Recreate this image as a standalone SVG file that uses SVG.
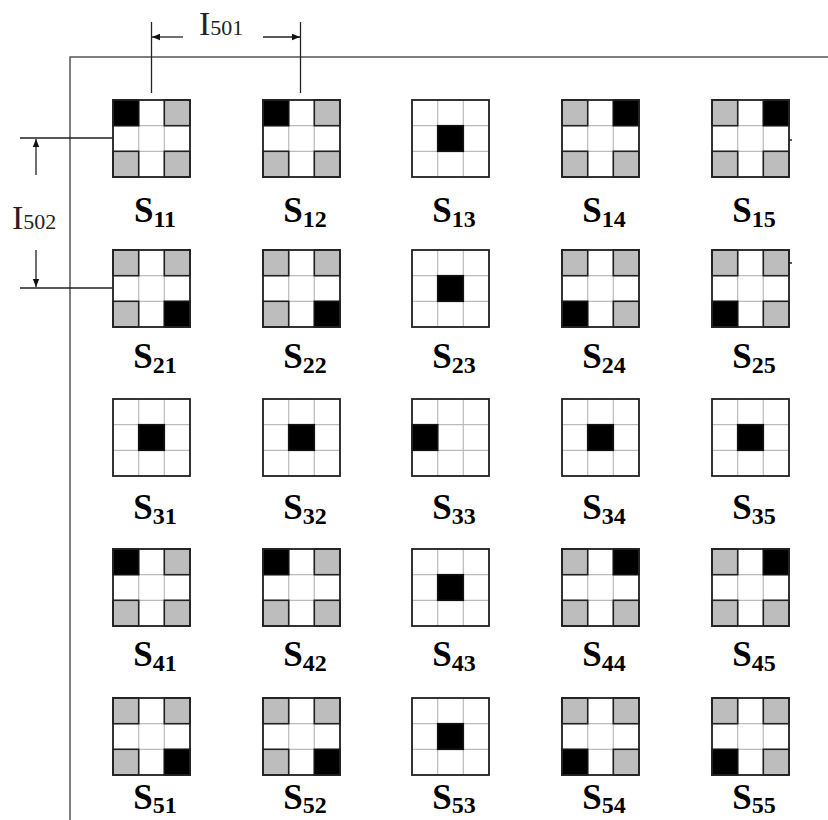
<svg xmlns="http://www.w3.org/2000/svg" xmlns:xlink="http://www.w3.org/1999/xlink" width="828" height="820" viewBox="0 0 828 820">
<style>
.frame{fill:none;stroke:#555;stroke-width:1.5}
.dim{fill:none;stroke:#222;stroke-width:1.3}
.grid{fill:#fff;stroke:#bbb;stroke-width:1}
.g{fill:#bdbdbd;stroke:#222;stroke-width:1.6}
.k{fill:#000;stroke:#111;stroke-width:1.6}
.out{fill:none;stroke:#222;stroke-width:1.8}
.lbl{font-family:"Liberation Serif",serif;font-weight:bold;font-size:35px;fill:#000}
.sub{font-size:24px}
.dt{font-family:"Liberation Serif",serif;fill:#222}
</style>
<defs>
<marker id="ah" viewBox="0 0 10 10" refX="10" refY="5" markerWidth="9" markerHeight="8" markerUnits="userSpaceOnUse" orient="auto">
<path d="M0,1 L10,5 L0,9 z" fill="#111"/>
</marker>
<g id="base">
<rect class="grid" x="0" y="0" width="77" height="77"/>
<path d="M25.7,0V77M51.3,0V77M0,25.7H77M0,51.3H77" stroke="#bbb" stroke-width="1.2" fill="none"/>
</g>
<g id="pA"><use xlink:href="#base"/><rect class="k" x="0" y="0" width="25.7" height="25.7"/><rect class="g" x="51.3" y="0" width="25.7" height="25.7"/><rect class="g" x="0" y="51.3" width="25.7" height="25.7"/><rect class="g" x="51.3" y="51.3" width="25.7" height="25.7"/><rect class="out" x="0" y="0" width="77" height="77"/></g>
<g id="pB"><use xlink:href="#base"/><rect class="g" x="0" y="0" width="25.7" height="25.7"/><rect class="k" x="51.3" y="0" width="25.7" height="25.7"/><rect class="g" x="0" y="51.3" width="25.7" height="25.7"/><rect class="g" x="51.3" y="51.3" width="25.7" height="25.7"/><rect class="out" x="0" y="0" width="77" height="77"/></g>
<g id="pC"><use xlink:href="#base"/><rect class="k" x="25.7" y="25.7" width="25.6" height="25.6"/><rect class="out" x="0" y="0" width="77" height="77"/></g>
<g id="pD"><use xlink:href="#base"/><rect class="g" x="0" y="0" width="25.7" height="25.7"/><rect class="g" x="51.3" y="0" width="25.7" height="25.7"/><rect class="g" x="0" y="51.3" width="25.7" height="25.7"/><rect class="k" x="51.3" y="51.3" width="25.7" height="25.7"/><rect class="out" x="0" y="0" width="77" height="77"/></g>
<g id="pE"><use xlink:href="#base"/><rect class="g" x="0" y="0" width="25.7" height="25.7"/><rect class="g" x="51.3" y="0" width="25.7" height="25.7"/><rect class="k" x="0" y="51.3" width="25.7" height="25.7"/><rect class="g" x="51.3" y="51.3" width="25.7" height="25.7"/><rect class="out" x="0" y="0" width="77" height="77"/></g>
<g id="pF"><use xlink:href="#base"/><rect class="k" x="0" y="25.7" width="25.7" height="25.6"/><rect class="out" x="0" y="0" width="77" height="77"/></g>
</defs>
<rect width="828" height="820" fill="#fff"/>
<g id="frame">
<path class="frame" d="M70,820V57H828"/>
</g>
<g id="connectors">
<path class="dim" d="M151.5,22V93M300.5,22V93"/>
<path class="dim" d="M183,37H152" marker-end="url(#ah)"/>
<path class="dim" d="M263,37H300" marker-end="url(#ah)"/>
<path class="dim" d="M20,138H113M20,288H113"/>
<path class="dim" d="M36,175V139" marker-end="url(#ah)"/>
<path class="dim" d="M36,250V287" marker-end="url(#ah)"/>
<path class="dim" d="M789,140H792M789,263H792"/>
<text class="dt" x="199" y="35" font-size="34">I<tspan font-size="22">501</tspan></text>
<text class="dt" x="12" y="229" font-size="34">I<tspan font-size="22">502</tspan></text>
</g>
<g id="S11"><use xlink:href="#pA" x="113" y="100"/><text class="lbl" x="155" y="222" text-anchor="middle">S<tspan class="sub" dy="5">11</tspan></text></g>
<g id="S12"><use xlink:href="#pA" x="263" y="100"/><text class="lbl" x="305" y="222" text-anchor="middle">S<tspan class="sub" dy="5">12</tspan></text></g>
<g id="S13"><use xlink:href="#pC" x="412" y="100"/><text class="lbl" x="454" y="222" text-anchor="middle">S<tspan class="sub" dy="5">13</tspan></text></g>
<g id="S14"><use xlink:href="#pB" x="562" y="100"/><text class="lbl" x="604" y="222" text-anchor="middle">S<tspan class="sub" dy="5">14</tspan></text></g>
<g id="S15"><use xlink:href="#pB" x="712" y="100"/><text class="lbl" x="754" y="222" text-anchor="middle">S<tspan class="sub" dy="5">15</tspan></text></g>
<g id="S21"><use xlink:href="#pD" x="113" y="250"/><text class="lbl" x="155" y="368" text-anchor="middle">S<tspan class="sub" dy="5">21</tspan></text></g>
<g id="S22"><use xlink:href="#pD" x="263" y="250"/><text class="lbl" x="305" y="368" text-anchor="middle">S<tspan class="sub" dy="5">22</tspan></text></g>
<g id="S23"><use xlink:href="#pC" x="412" y="250"/><text class="lbl" x="454" y="368" text-anchor="middle">S<tspan class="sub" dy="5">23</tspan></text></g>
<g id="S24"><use xlink:href="#pE" x="562" y="250"/><text class="lbl" x="604" y="368" text-anchor="middle">S<tspan class="sub" dy="5">24</tspan></text></g>
<g id="S25"><use xlink:href="#pE" x="712" y="250"/><text class="lbl" x="754" y="368" text-anchor="middle">S<tspan class="sub" dy="5">25</tspan></text></g>
<g id="S31"><use xlink:href="#pC" x="113" y="399"/><text class="lbl" x="155" y="519" text-anchor="middle">S<tspan class="sub" dy="5">31</tspan></text></g>
<g id="S32"><use xlink:href="#pC" x="263" y="399"/><text class="lbl" x="305" y="519" text-anchor="middle">S<tspan class="sub" dy="5">32</tspan></text></g>
<g id="S33"><use xlink:href="#pF" x="412" y="399"/><text class="lbl" x="454" y="519" text-anchor="middle">S<tspan class="sub" dy="5">33</tspan></text></g>
<g id="S34"><use xlink:href="#pC" x="562" y="399"/><text class="lbl" x="604" y="519" text-anchor="middle">S<tspan class="sub" dy="5">34</tspan></text></g>
<g id="S35"><use xlink:href="#pC" x="712" y="399"/><text class="lbl" x="754" y="519" text-anchor="middle">S<tspan class="sub" dy="5">35</tspan></text></g>
<g id="S41"><use xlink:href="#pA" x="113" y="549"/><text class="lbl" x="155" y="666" text-anchor="middle">S<tspan class="sub" dy="5">41</tspan></text></g>
<g id="S42"><use xlink:href="#pA" x="263" y="549"/><text class="lbl" x="305" y="666" text-anchor="middle">S<tspan class="sub" dy="5">42</tspan></text></g>
<g id="S43"><use xlink:href="#pC" x="412" y="549"/><text class="lbl" x="454" y="666" text-anchor="middle">S<tspan class="sub" dy="5">43</tspan></text></g>
<g id="S44"><use xlink:href="#pB" x="562" y="549"/><text class="lbl" x="604" y="666" text-anchor="middle">S<tspan class="sub" dy="5">44</tspan></text></g>
<g id="S45"><use xlink:href="#pB" x="712" y="549"/><text class="lbl" x="754" y="666" text-anchor="middle">S<tspan class="sub" dy="5">45</tspan></text></g>
<g id="S51"><use xlink:href="#pD" x="113" y="698"/><text class="lbl" x="155" y="809" text-anchor="middle">S<tspan class="sub" dy="4">51</tspan></text></g>
<g id="S52"><use xlink:href="#pD" x="263" y="698"/><text class="lbl" x="305" y="809" text-anchor="middle">S<tspan class="sub" dy="4">52</tspan></text></g>
<g id="S53"><use xlink:href="#pC" x="412" y="698"/><text class="lbl" x="454" y="809" text-anchor="middle">S<tspan class="sub" dy="4">53</tspan></text></g>
<g id="S54"><use xlink:href="#pE" x="562" y="698"/><text class="lbl" x="604" y="809" text-anchor="middle">S<tspan class="sub" dy="4">54</tspan></text></g>
<g id="S55"><use xlink:href="#pE" x="712" y="698"/><text class="lbl" x="754" y="809" text-anchor="middle">S<tspan class="sub" dy="4">55</tspan></text></g>
</svg>
